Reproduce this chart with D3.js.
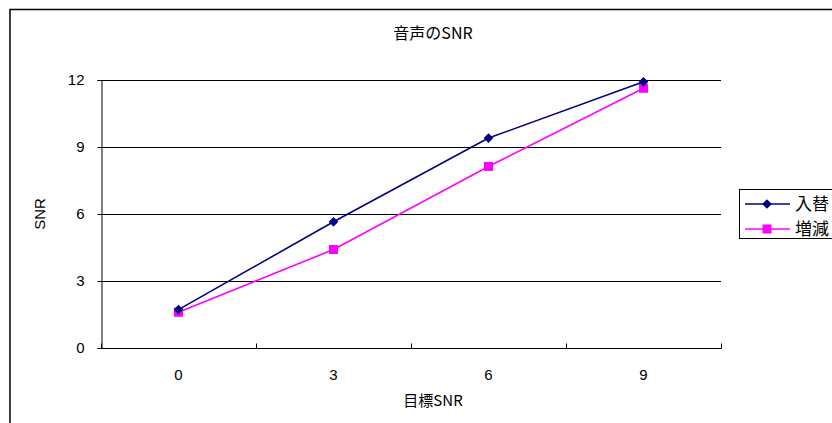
<!DOCTYPE html>
<html>
<head>
<meta charset="utf-8">
<script src="https://cdn.jsdelivr.net/npm/d3@7"></script>
<style>
  html, body { margin: 0; padding: 0; background: #fff; }
  svg { display: block; }
  text { fill: #000; }
</style>
</head>
<body>
<svg id="chart" width="832" height="423"></svg>
<script>
// Target SNR categories and measured SNR per method
const categories = ["0", "3", "6", "9"];
const seriesNames = ["入替", "増減"];
const swapValues = [1.72, 5.65, 9.4, 11.92];
const scaleValues = [1.6, 4.41, 8.13, 11.63];
const yTicks = [0, 3, 6, 9, 12];
const titleText = "音声のSNR";
const xTitle = "目標SNR";
const yTitle = "SNR";

const CJK = "'Noto Sans CJK JP', sans-serif";
const LATIN = "'Liberation Sans', Arial, sans-serif";

const svg = d3.select("#chart");

// outer chart frame
svg.append("rect")
  .attr("x", 10).attr("y", 9.5)
  .attr("width", 840).attr("height", 430)
  .attr("fill", "#fff").attr("stroke", "#000").attr("stroke-width", 1.5);

const plot = { left: 101, right: 721, top: 80, bottom: 348 };

const x = d3.scaleBand().domain(categories).range([plot.left, plot.right]);
const y = d3.scaleLinear().domain([0, 12]).range([plot.bottom, plot.top]);

// horizontal gridlines
svg.append("g")
  .selectAll("line")
  .data(yTicks.filter(t => t > 0))
  .join("line")
  .attr("x1", plot.left).attr("x2", plot.right)
  .attr("y1", d => Math.round(y(d)) + 0.5).attr("y2", d => Math.round(y(d)) + 0.5)
  .attr("stroke", "#000").attr("stroke-width", 1);

// y axis
const yAxis = svg.append("g")
  .attr("transform", `translate(${plot.left + 0.5},0)`)
  .call(d3.axisLeft(y).tickValues(yTicks).tickSize(4).tickPadding(13).tickFormat(d3.format("d")));
yAxis.select(".domain").attr("stroke", "#000");
yAxis.selectAll(".tick line").attr("stroke", "#000");
yAxis.selectAll("text")
  .style("font-size", "15px").style("font-family", LATIN).style("fill", "#000");

// x axis with ticks at category boundaries
const xAxisG = svg.append("g").attr("transform", `translate(0,${plot.bottom + 0.5})`);
xAxisG.append("line")
  .attr("x1", plot.left).attr("x2", plot.right + 0.5)
  .attr("stroke", "#000");
const bounds = categories.map(c => x(c)).concat([plot.right]);
xAxisG.selectAll("line.tick")
  .data(bounds)
  .join("line")
  .attr("class", "tick")
  .attr("x1", d => Math.round(d) + 0.5).attr("x2", d => Math.round(d) + 0.5)
  .attr("y1", 0).attr("y2", -5)
  .attr("stroke", "#000");
xAxisG.selectAll("text")
  .data(categories)
  .join("text")
  .attr("x", d => x(d) + x.bandwidth() / 2)
  .attr("y", 31)
  .attr("text-anchor", "middle")
  .style("font-size", "15px")
  .style("font-family", LATIN)
  .text(d => d);

// titles
svg.append("text")
  .attr("x", 433).attr("y", 39)
  .attr("text-anchor", "middle")
  .style("font-size", "16px").style("font-family", CJK)
  .text(titleText);
svg.append("text")
  .attr("x", 433).attr("y", 406)
  .attr("text-anchor", "middle")
  .style("font-size", "15px").style("font-family", CJK)
  .text(xTitle);
svg.append("text")
  .attr("transform", "translate(45,214) rotate(-90)")
  .attr("text-anchor", "middle")
  .style("font-size", "15px").style("font-family", LATIN)
  .text(yTitle);

const cx = c => x(c) + x.bandwidth() / 2;
const line = d3.line().x((d, i) => cx(categories[i])).y(d => y(d));

const series = [
  { name: seriesNames[0], values: swapValues, color: "#000080", marker: "diamond" },
  { name: seriesNames[1], values: scaleValues, color: "#ff00ff", marker: "square" }
];

const diamond = d3.symbol().type(d3.symbolDiamond2).size(60);
function drawMarker(g, type, color, px, py) {
  if (type === "square") {
    g.append("rect")
      .attr("x", px - 4.5).attr("y", py - 4.5)
      .attr("width", 9).attr("height", 9)
      .attr("fill", color);
  } else {
    g.append("path")
      .attr("d", diamond())
      .attr("transform", `translate(${px},${py})`)
      .attr("fill", color);
  }
}

// draw magenta first so navy sits on top
series.slice().reverse().forEach(s => {
  const g = svg.append("g");
  g.append("path")
    .datum(s.values)
    .attr("d", line)
    .attr("fill", "none")
    .attr("stroke", s.color)
    .attr("stroke-width", 1.6);
  s.values.forEach((v, i) => drawMarker(g, s.marker, s.color, cx(categories[i]), y(v)));
});

// legend
const legend = svg.append("g");
legend.append("rect")
  .attr("x", 739.5).attr("y", 189.5)
  .attr("width", 120).attr("height", 49)
  .attr("fill", "#fff").attr("stroke", "#000").attr("stroke-width", 1);
series.forEach((s, i) => {
  const ly = 204 + i * 25;
  legend.append("line")
    .attr("x1", 745).attr("x2", 790)
    .attr("y1", ly).attr("y2", ly)
    .attr("stroke", s.color).attr("stroke-width", 1.6);
  drawMarker(legend, s.marker, s.color, 767, ly);
  legend.append("text")
    .attr("x", 795).attr("y", ly + 6)
    .style("font-size", "17px").style("font-family", CJK)
    .text(s.name);
});
</script>
</body>
</html>
